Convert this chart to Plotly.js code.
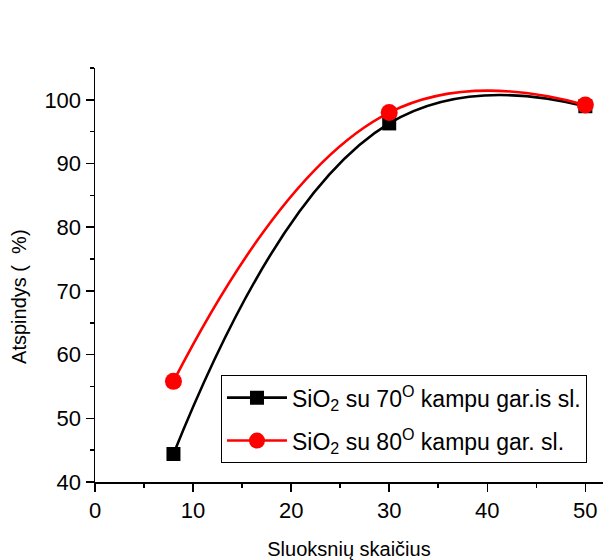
<!DOCTYPE html>
<html><head><meta charset="utf-8">
<script src="https://cdn.plot.ly/plotly-3.0.1.min.js"></script>
<style>body{margin:0;background:#fff}#c{width:603px;height:560px}</style>
</head><body><div id="c"></div>
<script>
const layers = [8, 30, 50];
const refl70 = [44.4, 96.3, 99.0];
const refl80 = [55.8, 98.0, 99.2];
const name70 = 'SiO<sub>2</sub> su 70<sup>O</sup> kampu gar.is sl.';
const name80 = 'SiO<sub>2</sub> su 80<sup>O</sup> kampu gar. sl.';
const yTitle = 'Atspindys (&nbsp; %)';
const xTitle = 'Sluoksnių skaičius';

const traces = [
  {x: layers, y: refl70, name: name70, legendgroup: 'a', mode: 'lines+markers', type: 'scatter',
   line: {color: '#000', width: 2.6, shape: 'spline', smoothing: 1.3},
   marker: {symbol: 'square', size: 14, color: '#000'}},
  {x: layers, y: refl80, name: name80, legendgroup: 'b', mode: 'lines+markers', type: 'scatter',
   line: {color: '#ff0000', width: 2.6, shape: 'spline', smoothing: 1.3},
   marker: {symbol: 'circle', size: 17, color: '#ff0000'}}
];
const font = {family: 'Liberation Sans, Arial, sans-serif', color: '#000'};
const layout = {
  width: 603, height: 560,
  margin: {l: 95, r: 0, t: 68, b: 78},
  paper_bgcolor: '#fff', plot_bgcolor: '#fff',
  font: font,
  showlegend: true,
  legend: {x: 0.248, y: 0.258, xanchor: 'left', yanchor: 'top',
    bordercolor: '#000', borderwidth: 1, bgcolor: '#fff', traceorder: 'grouped',
    font: {family: font.family, size: 23, color: '#000'}, tracegroupgap: 10, itemwidth: 60},
  xaxis: {range: [0, 51.8], showgrid: false, zeroline: false, showline: true,
    linecolor: '#000', linewidth: 1.5, ticks: 'outside', ticklen: 8, tickwidth: 1.5,
    tickcolor: '#000', dtick: 10, tick0: 0,
    tickfont: {family: font.family, size: 22, color: '#000'},
    minor: {ticks: 'outside', ticklen: 4, tickwidth: 1.5, dtick: 5, tickcolor: '#000'},
    title: {text: xTitle, font: {family: font.family, size: 20, color: '#000'}, standoff: 22}},
  yaxis: {range: [40, 105], showgrid: false, zeroline: false, showline: true,
    linecolor: '#000', linewidth: 1.5, ticks: 'outside', ticklen: 8, tickwidth: 1.5,
    tickcolor: '#000', dtick: 10, tick0: 40,
    tickfont: {family: font.family, size: 22, color: '#000'},
    minor: {ticks: 'outside', ticklen: 4, tickwidth: 1.5, dtick: 5, tickcolor: '#000'}},
  annotations: [{text: yTitle, xref: 'paper', yref: 'paper', x: -0.1496, y: 0.447,
    xanchor: 'center', yanchor: 'middle', textangle: -90, showarrow: false,
    font: {family: font.family, size: 20, color: '#000'}}]
};
Plotly.newPlot('c', traces, layout, {displayModeBar: false, staticPlot: true});
</script></body></html>
